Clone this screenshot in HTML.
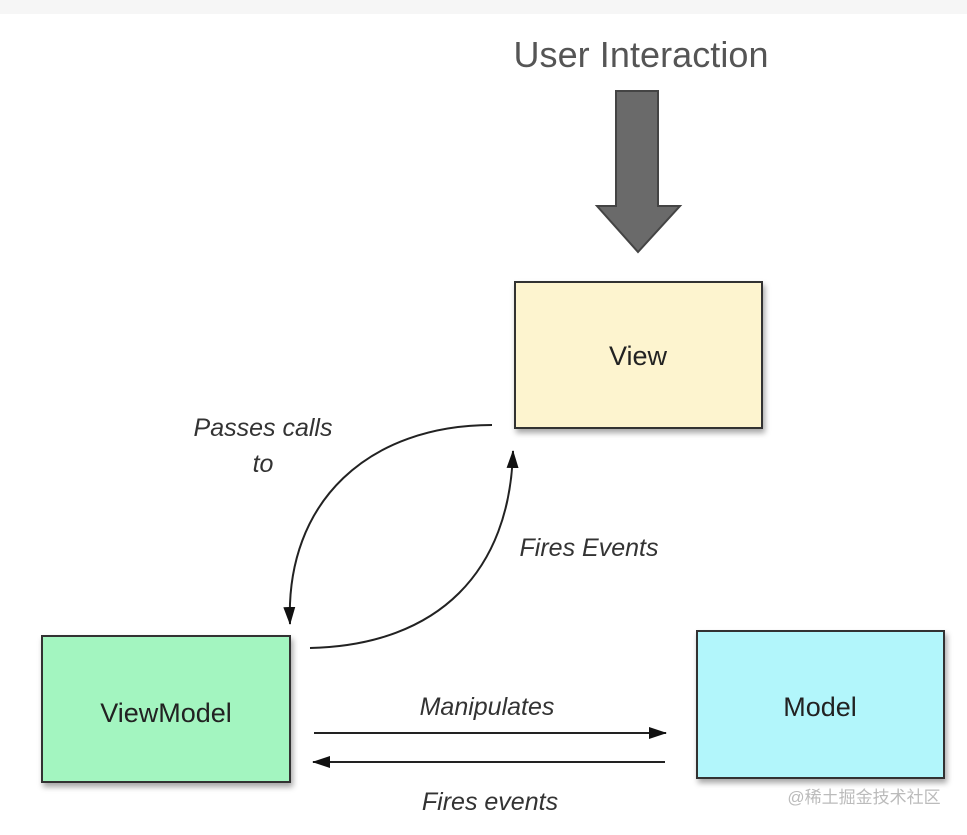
<!DOCTYPE html>
<html><head><style>
body{margin:0;width:967px;height:830px;background:#fff;overflow:hidden;font-family:"Liberation Sans","Noto Sans CJK SC",sans-serif}
</style></head><body>
<svg width="967" height="830" viewBox="0 0 967 830">
<defs>
<marker id="a" markerWidth="18" markerHeight="14" refX="17" refY="7" orient="auto" markerUnits="userSpaceOnUse" viewBox="0 0 18 14"><path d="M0,1 L18,7 L0,13z" fill="#111"/></marker>
<filter id="s" x="-10%" y="-10%" width="130%" height="130%"><feDropShadow dx="2" dy="4" stdDeviation="3" flood-color="#000" flood-opacity="0.35"/></filter>
</defs>
<rect x="0" y="0" width="967" height="14" fill="#f6f6f6"/>
<text x="641" y="67" font-size="36" fill="#555" text-anchor="middle" font-family="Liberation Sans" textLength="255">User Interaction</text>
<path d="M616,91 H658 V206 H680 L638,252 L597,206 H616 Z" fill="#6a6a6a" stroke="#444" stroke-width="2"/>
<rect x="515" y="282" width="247" height="146" fill="#fdf4cf" stroke="#333" stroke-width="2" filter="url(#s)"/>
<text x="638" y="365" font-size="27" fill="#222" text-anchor="middle">View</text>
<rect x="42" y="636" width="248" height="146" fill="#a3f5c0" stroke="#333" stroke-width="2" filter="url(#s)"/>
<text x="166" y="722" font-size="27" fill="#222" text-anchor="middle">ViewModel</text>
<rect x="697" y="631" width="247" height="147" fill="#b2f6fb" stroke="#333" stroke-width="2" filter="url(#s)"/>
<text x="820" y="716" font-size="27" fill="#222" text-anchor="middle">Model</text>
<path d="M492,425 C370,425 285,500 290,624" fill="none" stroke="#222" stroke-width="2" marker-end="url(#a)"/>
<path d="M310,648 C440,645 510,570 513,451" fill="none" stroke="#222" stroke-width="2" marker-end="url(#a)"/>
<line x1="314" y1="733" x2="666" y2="733" stroke="#222" stroke-width="2" marker-end="url(#a)"/>
<line x1="665" y1="762" x2="313" y2="762" stroke="#222" stroke-width="2" marker-end="url(#a)"/>
<g font-size="25" font-style="italic" fill="#333" text-anchor="middle">
<text x="263" y="436">Passes calls</text>
<text x="263" y="472">to</text>
<text x="589" y="556">Fires Events</text>
<text x="487" y="715">Manipulates</text>
<text x="490" y="810">Fires events</text>
</g>
<text x="864" y="803" font-size="17" fill="#bbb" text-anchor="middle">@稀土掘金技术社区</text>
</svg>
</body></html>
